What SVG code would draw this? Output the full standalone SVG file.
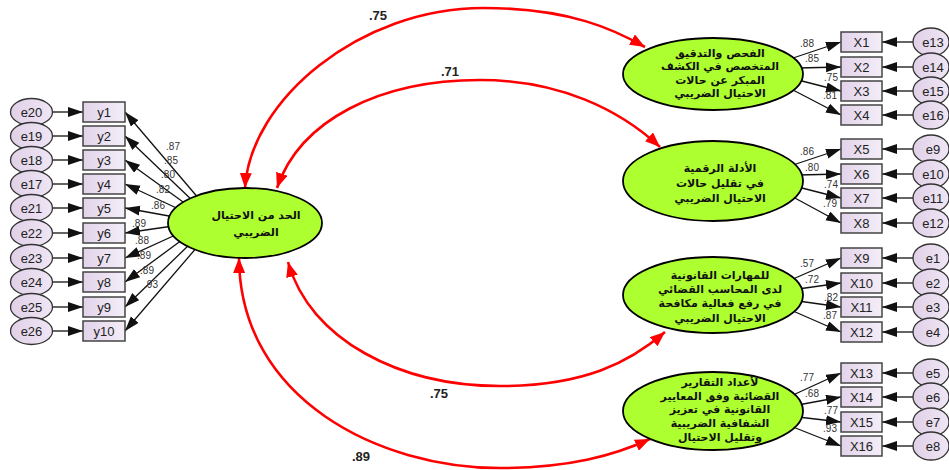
<svg xmlns="http://www.w3.org/2000/svg" width="949" height="470" viewBox="0 0 949 470">
<style>
.box{fill:url(#gb);stroke:#444;stroke-width:1.5}
.err{fill:url(#ge);stroke:#333;stroke-width:1.3}
.lat{fill:#adff2f;stroke:#000;stroke-width:1.8}
.lbl{font-family:"Liberation Sans",Arial,sans-serif;font-size:13px;fill:#222;text-anchor:middle}
.ar{font-family:"DejaVu Sans","Noto Sans",sans-serif;font-size:11px;font-weight:bold;fill:#111;text-anchor:middle}
.ld{font-family:"Liberation Sans",Arial,sans-serif;font-size:10px;fill:#333;text-anchor:middle}
.cv{font-family:"Liberation Sans",Arial,sans-serif;font-size:13px;font-weight:bold;fill:#222;text-anchor:middle}
.bl{stroke:#111;stroke-width:1.3;fill:none;marker-end:url(#ab)}
.rd{stroke:#f00;stroke-width:2.6;fill:none;marker-start:url(#ar);marker-end:url(#ar)}
</style>
<defs>
<linearGradient id="gb" x1="0" y1="0" x2="1" y2="0"><stop offset="0" stop-color="#e2d3ea"/><stop offset="1" stop-color="#f4eef8"/></linearGradient>
<linearGradient id="ge" x1="0" y1="0" x2="1" y2="0"><stop offset="0" stop-color="#e0d0e8"/><stop offset="1" stop-color="#efe6f4"/></linearGradient>
<marker id="ab" markerUnits="userSpaceOnUse" markerWidth="16" markerHeight="12" refX="15" refY="5" orient="auto"><path d="M0,0 L15,5 L0,10 z" fill="#111"/></marker>
<marker id="ar" markerUnits="userSpaceOnUse" markerWidth="16" markerHeight="12" refX="15" refY="6" orient="auto-start-reverse"><path d="M0,0 L15,6 L0,12 z" fill="#f00"/></marker>
</defs>
<rect width="949" height="470" fill="#fff"/>
<g id="connectors">
<line class="bl" x1="53" y1="112" x2="83" y2="112"/>
<line class="bl" x1="53" y1="136" x2="83" y2="136"/>
<line class="bl" x1="53" y1="160" x2="83" y2="160"/>
<line class="bl" x1="53" y1="184" x2="83" y2="184"/>
<line class="bl" x1="53" y1="208" x2="83" y2="208"/>
<line class="bl" x1="53" y1="233" x2="83" y2="233"/>
<line class="bl" x1="53" y1="258" x2="83" y2="258"/>
<line class="bl" x1="53" y1="282" x2="83" y2="282"/>
<line class="bl" x1="53" y1="307" x2="83" y2="307"/>
<line class="bl" x1="53" y1="331" x2="83" y2="331"/>
<line class="bl" x1="200" y1="200" x2="125" y2="112"/>
<line class="bl" x1="195" y1="203" x2="125" y2="136"/>
<line class="bl" x1="190" y1="207" x2="125" y2="160"/>
<line class="bl" x1="185" y1="212" x2="125" y2="184"/>
<line class="bl" x1="180" y1="218" x2="125" y2="208"/>
<line class="bl" x1="180" y1="225" x2="125" y2="233"/>
<line class="bl" x1="182" y1="232" x2="125" y2="258"/>
<line class="bl" x1="186" y1="237" x2="125" y2="282"/>
<line class="bl" x1="192" y1="242" x2="125" y2="307"/>
<line class="bl" x1="198" y1="246" x2="125" y2="331"/>
<line class="bl" x1="793" y1="58" x2="841" y2="42"/>
<line class="bl" x1="798" y1="68" x2="841" y2="67"/>
<line class="bl" x1="798" y1="80" x2="841" y2="91"/>
<line class="bl" x1="793" y1="90" x2="841" y2="115"/>
<line class="bl" x1="793" y1="165" x2="841" y2="149"/>
<line class="bl" x1="798" y1="175" x2="841" y2="174"/>
<line class="bl" x1="798" y1="187" x2="841" y2="198"/>
<line class="bl" x1="793" y1="197" x2="841" y2="223"/>
<line class="bl" x1="793" y1="279" x2="841" y2="258"/>
<line class="bl" x1="798" y1="289" x2="841" y2="283"/>
<line class="bl" x1="798" y1="301" x2="841" y2="307"/>
<line class="bl" x1="793" y1="311" x2="841" y2="332"/>
<line class="bl" x1="793" y1="395" x2="841" y2="373"/>
<line class="bl" x1="798" y1="405" x2="841" y2="397"/>
<line class="bl" x1="798" y1="417" x2="841" y2="422"/>
<line class="bl" x1="793" y1="427" x2="841" y2="446"/>
<line class="bl" x1="913" y1="42" x2="882" y2="42"/>
<line class="bl" x1="913" y1="67" x2="882" y2="67"/>
<line class="bl" x1="913" y1="91" x2="882" y2="91"/>
<line class="bl" x1="913" y1="115" x2="882" y2="115"/>
<line class="bl" x1="913" y1="149" x2="882" y2="149"/>
<line class="bl" x1="913" y1="174" x2="882" y2="174"/>
<line class="bl" x1="913" y1="198" x2="882" y2="198"/>
<line class="bl" x1="913" y1="223" x2="882" y2="223"/>
<line class="bl" x1="913" y1="258" x2="882" y2="258"/>
<line class="bl" x1="913" y1="283" x2="882" y2="283"/>
<line class="bl" x1="913" y1="307" x2="882" y2="307"/>
<line class="bl" x1="913" y1="332" x2="882" y2="332"/>
<line class="bl" x1="913" y1="373" x2="882" y2="373"/>
<line class="bl" x1="913" y1="397" x2="882" y2="397"/>
<line class="bl" x1="913" y1="422" x2="882" y2="422"/>
<line class="bl" x1="913" y1="446" x2="882" y2="446"/>
<path class="rd" d="M245,188 C250,100 360,8 483,8 C570,8 615,30 645,47"/>
<path class="rd" d="M277,188 C300,120 380,80 480,80 C560,80 620,110 660,147"/>
<path class="rd" d="M288,262 C310,340 400,386 500,386 C585,386 630,362 665,332"/>
<path class="rd" d="M239,258 C240,400 380,468 500,468 C570,468 615,455 650,439"/>
<text class="ld" x="173" y="150">.87</text>
<text class="ld" x="171" y="164">.85</text>
<text class="ld" x="168" y="178">.80</text>
<text class="ld" x="163" y="193">.82</text>
<text class="ld" x="158" y="209">.86</text>
<text class="ld" x="139" y="227">.89</text>
<text class="ld" x="142" y="244">.88</text>
<text class="ld" x="144" y="259">.89</text>
<text class="ld" x="147" y="274">.89</text>
<text class="ld" x="151" y="288">.93</text>
<text class="ld" x="807" y="47">.88</text>
<text class="ld" x="812" y="62">.85</text>
<text class="ld" x="831" y="81">.75</text>
<text class="ld" x="830" y="99">.81</text>
<text class="ld" x="807" y="155">.86</text>
<text class="ld" x="812" y="171">.80</text>
<text class="ld" x="831" y="188">.74</text>
<text class="ld" x="830" y="207">.79</text>
<text class="ld" x="807" y="267">.57</text>
<text class="ld" x="812" y="283">.72</text>
<text class="ld" x="831" y="301">.82</text>
<text class="ld" x="830" y="319">.87</text>
<text class="ld" x="807" y="381">.77</text>
<text class="ld" x="812" y="397">.68</text>
<text class="ld" x="831" y="414">.77</text>
<text class="ld" x="830" y="432">.93</text>
<text class="cv" x="378" y="20">.75</text>
<text class="cv" x="450" y="76">.71</text>
<text class="cv" x="439" y="398">.75</text>
<text class="cv" x="361" y="461">.89</text>
</g>
<g id="F">
<ellipse class="lat" cx="245" cy="223" rx="77" ry="35"/>
<text class="ar" x="256" y="219">الحد من الاحتيال</text>
<text class="ar" x="256" y="236">الضريبي</text>
</g>
<g id="L1">
<ellipse class="lat" cx="713" cy="74" rx="90" ry="36"/>
<text class="ar" x="720" y="57">الفحص والتدقيق</text>
<text class="ar" x="720" y="70">المتخصص في الكشف</text>
<text class="ar" x="720" y="84">المبكر عن حالات</text>
<text class="ar" x="720" y="97">الاحتيال الضريبي</text>
</g>
<g id="L2">
<ellipse class="lat" cx="713" cy="181" rx="90" ry="40"/>
<text class="ar" x="720" y="172">الأدلة الرقمية</text>
<text class="ar" x="720" y="187">في تقليل حالات</text>
<text class="ar" x="720" y="202">الاحتيال الضريبي</text>
</g>
<g id="L3">
<ellipse class="lat" cx="713" cy="295" rx="90" ry="38"/>
<text class="ar" x="720" y="279">للمهارات القانونية</text>
<text class="ar" x="720" y="293">لدى المحاسب القضائي</text>
<text class="ar" x="720" y="307">في رفع فعالية مكافحة</text>
<text class="ar" x="720" y="322">الاحتيال الضريبي</text>
</g>
<g id="L4">
<ellipse class="lat" cx="713" cy="411" rx="90" ry="39"/>
<text class="ar" x="720" y="386">لأعداد التقارير</text>
<text class="ar" x="720" y="400">القضائية وفق المعايير</text>
<text class="ar" x="720" y="413">القانونية في تعزيز</text>
<text class="ar" x="720" y="427">الشفافية الضريبية</text>
<text class="ar" x="720" y="441">وتقليل الاحتيال</text>
</g>
<g id="y-items">
<g id="y1"><rect class="box" x="83" y="102" width="42" height="20"/><text class="lbl" x="104" y="117">y1</text></g>
<g id="y2"><rect class="box" x="83" y="126" width="42" height="20"/><text class="lbl" x="104" y="141">y2</text></g>
<g id="y3"><rect class="box" x="83" y="150" width="42" height="20"/><text class="lbl" x="104" y="165">y3</text></g>
<g id="y4"><rect class="box" x="83" y="174" width="42" height="20"/><text class="lbl" x="104" y="189">y4</text></g>
<g id="y5"><rect class="box" x="83" y="198" width="42" height="20"/><text class="lbl" x="104" y="213">y5</text></g>
<g id="y6"><rect class="box" x="83" y="223" width="42" height="20"/><text class="lbl" x="104" y="238">y6</text></g>
<g id="y7"><rect class="box" x="83" y="248" width="42" height="20"/><text class="lbl" x="104" y="263">y7</text></g>
<g id="y8"><rect class="box" x="83" y="272" width="42" height="20"/><text class="lbl" x="104" y="287">y8</text></g>
<g id="y9"><rect class="box" x="83" y="297" width="42" height="20"/><text class="lbl" x="104" y="312">y9</text></g>
<g id="y10"><rect class="box" x="83" y="321" width="42" height="20"/><text class="lbl" x="104" y="336">y10</text></g>
</g>
<g id="y-errors">
<g id="e20"><ellipse class="err" cx="31.5" cy="112" rx="21" ry="13.5"/><text class="lbl" x="31.5" y="117">e20</text></g>
<g id="e19"><ellipse class="err" cx="31.5" cy="136" rx="21" ry="13.5"/><text class="lbl" x="31.5" y="141">e19</text></g>
<g id="e18"><ellipse class="err" cx="31.5" cy="160" rx="21" ry="13.5"/><text class="lbl" x="31.5" y="165">e18</text></g>
<g id="e17"><ellipse class="err" cx="31.5" cy="184" rx="21" ry="13.5"/><text class="lbl" x="31.5" y="189">e17</text></g>
<g id="e21"><ellipse class="err" cx="31.5" cy="208" rx="21" ry="13.5"/><text class="lbl" x="31.5" y="213">e21</text></g>
<g id="e22"><ellipse class="err" cx="31.5" cy="233" rx="21" ry="13.5"/><text class="lbl" x="31.5" y="238">e22</text></g>
<g id="e23"><ellipse class="err" cx="31.5" cy="258" rx="21" ry="13.5"/><text class="lbl" x="31.5" y="263">e23</text></g>
<g id="e24"><ellipse class="err" cx="31.5" cy="282" rx="21" ry="13.5"/><text class="lbl" x="31.5" y="287">e24</text></g>
<g id="e25"><ellipse class="err" cx="31.5" cy="307" rx="21" ry="13.5"/><text class="lbl" x="31.5" y="312">e25</text></g>
<g id="e26"><ellipse class="err" cx="31.5" cy="331" rx="21" ry="13.5"/><text class="lbl" x="31.5" y="336">e26</text></g>
</g>
<g id="x-items">
<g id="X1"><rect class="box" x="841" y="32" width="41" height="20"/><text class="lbl" x="861.5" y="47">X1</text></g>
<g id="X2"><rect class="box" x="841" y="57" width="41" height="20"/><text class="lbl" x="861.5" y="72">X2</text></g>
<g id="X3"><rect class="box" x="841" y="81" width="41" height="20"/><text class="lbl" x="861.5" y="96">X3</text></g>
<g id="X4"><rect class="box" x="841" y="105" width="41" height="20"/><text class="lbl" x="861.5" y="120">X4</text></g>
<g id="X5"><rect class="box" x="841" y="139" width="41" height="20"/><text class="lbl" x="861.5" y="154">X5</text></g>
<g id="X6"><rect class="box" x="841" y="164" width="41" height="20"/><text class="lbl" x="861.5" y="179">X6</text></g>
<g id="X7"><rect class="box" x="841" y="188" width="41" height="20"/><text class="lbl" x="861.5" y="203">X7</text></g>
<g id="X8"><rect class="box" x="841" y="213" width="41" height="20"/><text class="lbl" x="861.5" y="228">X8</text></g>
<g id="X9"><rect class="box" x="841" y="248" width="41" height="20"/><text class="lbl" x="861.5" y="263">X9</text></g>
<g id="X10"><rect class="box" x="841" y="273" width="41" height="20"/><text class="lbl" x="861.5" y="288">X10</text></g>
<g id="X11"><rect class="box" x="841" y="297" width="41" height="20"/><text class="lbl" x="861.5" y="312">X11</text></g>
<g id="X12"><rect class="box" x="841" y="322" width="41" height="20"/><text class="lbl" x="861.5" y="337">X12</text></g>
<g id="X13"><rect class="box" x="841" y="363" width="41" height="20"/><text class="lbl" x="861.5" y="378">X13</text></g>
<g id="X14"><rect class="box" x="841" y="387" width="41" height="20"/><text class="lbl" x="861.5" y="402">X14</text></g>
<g id="X15"><rect class="box" x="841" y="412" width="41" height="20"/><text class="lbl" x="861.5" y="427">X15</text></g>
<g id="X16"><rect class="box" x="841" y="436" width="41" height="20"/><text class="lbl" x="861.5" y="451">X16</text></g>
</g>
<g id="x-errors">
<g id="e13"><ellipse class="err" cx="931" cy="42" rx="18" ry="14"/><text class="lbl" x="933" y="47">e13</text></g>
<g id="e14"><ellipse class="err" cx="931" cy="67" rx="18" ry="14"/><text class="lbl" x="933" y="72">e14</text></g>
<g id="e15"><ellipse class="err" cx="931" cy="91" rx="18" ry="14"/><text class="lbl" x="933" y="96">e15</text></g>
<g id="e16"><ellipse class="err" cx="931" cy="115" rx="18" ry="14"/><text class="lbl" x="933" y="120">e16</text></g>
<g id="e9"><ellipse class="err" cx="931" cy="149" rx="18" ry="14"/><text class="lbl" x="933" y="154">e9</text></g>
<g id="e10"><ellipse class="err" cx="931" cy="174" rx="18" ry="14"/><text class="lbl" x="933" y="179">e10</text></g>
<g id="e11"><ellipse class="err" cx="931" cy="198" rx="18" ry="14"/><text class="lbl" x="933" y="203">e11</text></g>
<g id="e12"><ellipse class="err" cx="931" cy="223" rx="18" ry="14"/><text class="lbl" x="933" y="228">e12</text></g>
<g id="e1"><ellipse class="err" cx="931" cy="258" rx="18" ry="14"/><text class="lbl" x="933" y="263">e1</text></g>
<g id="e2"><ellipse class="err" cx="931" cy="283" rx="18" ry="14"/><text class="lbl" x="933" y="288">e2</text></g>
<g id="e3"><ellipse class="err" cx="931" cy="307" rx="18" ry="14"/><text class="lbl" x="933" y="312">e3</text></g>
<g id="e4"><ellipse class="err" cx="931" cy="332" rx="18" ry="14"/><text class="lbl" x="933" y="337">e4</text></g>
<g id="e5"><ellipse class="err" cx="931" cy="373" rx="18" ry="14"/><text class="lbl" x="933" y="378">e5</text></g>
<g id="e6"><ellipse class="err" cx="931" cy="397" rx="18" ry="14"/><text class="lbl" x="933" y="402">e6</text></g>
<g id="e7"><ellipse class="err" cx="931" cy="422" rx="18" ry="14"/><text class="lbl" x="933" y="427">e7</text></g>
<g id="e8"><ellipse class="err" cx="931" cy="446" rx="18" ry="14"/><text class="lbl" x="933" y="451">e8</text></g>
</g>
</svg>
